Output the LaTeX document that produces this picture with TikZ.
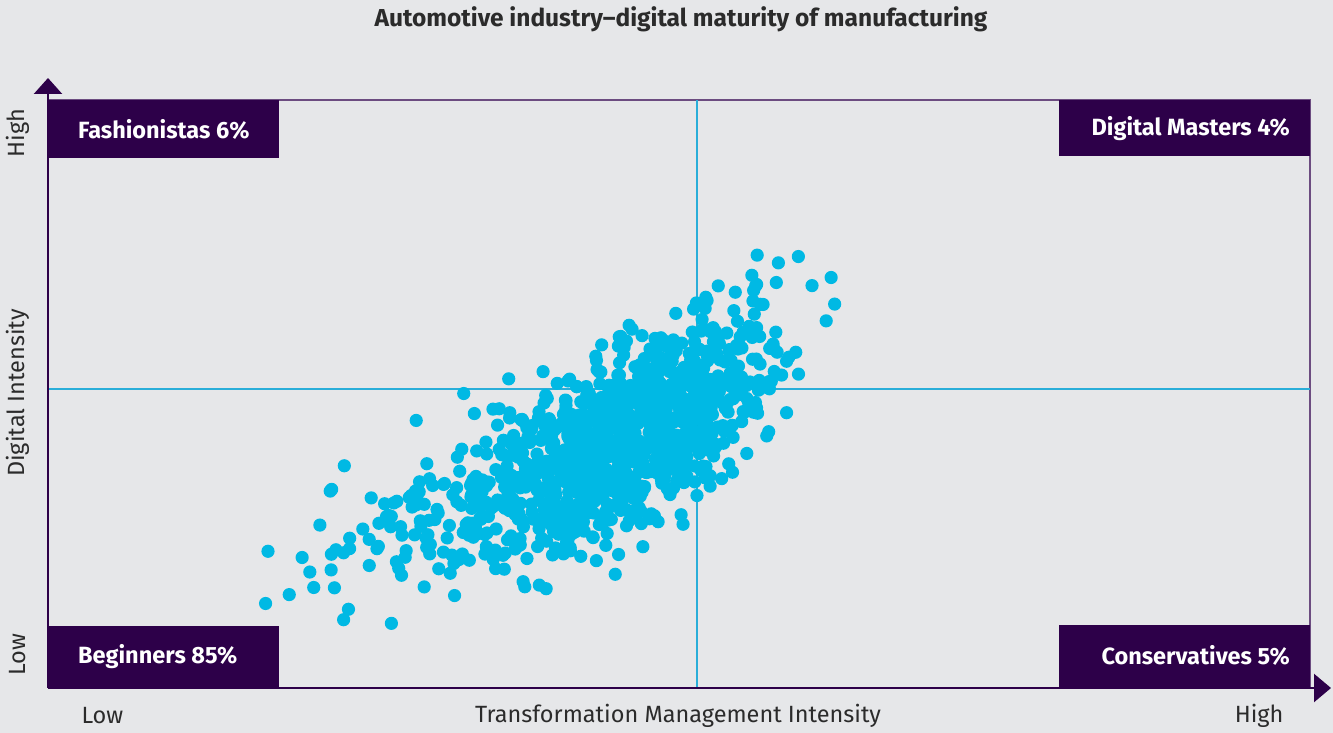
\documentclass[tikz,border=0pt]{standalone}
\usepackage{fontspec}
\setmainfont{Fira Sans}
\usepackage{tikz}
\usetikzlibrary{arrows.meta}
\definecolor{bgcol}{HTML}{E6E7E9}
\definecolor{plum}{HTML}{2D0049}
\definecolor{dotcol}{HTML}{00B9E4}
\definecolor{gridcol}{HTML}{2AAED9}
\definecolor{inkcol}{HTML}{2B2B2B}
\tikzstyle{quadbox} = [rectangle, fill=plum, inner sep=0pt, minimum height=58pt]
\tikzstyle{boxtext} = [text=white, inner sep=0pt, font=\fontsize{23.5}{26}\selectfont\bfseries]
\tikzstyle{axis} = [draw=plum, line width=2.5pt]
\tikzstyle{frame} = [draw=plum!70, line width=1.3pt]
\tikzstyle{axlabel} = [text=inkcol, font=\fontsize{23.5}{27}\selectfont]

\begin{document}
\begin{tikzpicture}[x=1pt, y=-1pt]

\useasboundingbox[fill=bgcol] (0,0) rectangle (1333,733);

\node[font=\fontsize{24.5}{28}\selectfont\bfseries, text=inkcol] (title) at (681,19)
    {Automotive industry--digital maturity of manufacturing};

% frame and quadrant lines
\coordinate (o) at (48,688);
\coordinate (tl) at (48,100);
\coordinate (tr) at (1310,100);
\coordinate (br) at (1310,688);
\draw[frame] (tl) -- (tr) -- (br);
\draw[gridcol, line width=1.2pt] (697,100) -- (697,688);
\draw[gridcol, line width=1.2pt] (48,389) -- (1310,389);

% scatter
\begin{scope}
\clip (tl) rectangle (br);
\pgfmathsetseed{2024}
\foreach \i in {1,...,1100}{
  \pgfmathsetmacro\ta{0.87*(rand+rand+rand+rand)}
  \pgfmathsetmacro\tb{0.87*(rand+rand+rand+rand)}
  \ifnum\i<720
    \pgfmathsetmacro\px{635+68*\ta}
  \else
    \pgfmathsetmacro\px{540+105*\ta}
  \fi
  \pgfmathsetmacro\py{458-(\px<600 ? 0.36 : 0.58)*(\px-600)+44*\tb}
  \fill[dotcol] (\px,\py) circle (6.6pt);
}
\end{scope}

% axes
\coordinate (ytip) at (48,78);
\coordinate (xtip) at (1331,688);
\draw[axis, -{Triangle[width=28pt,length=16pt]}] (o) -- (ytip);
\draw[axis, -{Triangle[width=28pt,length=17pt]}] (o) -- (xtip);

% quadrant boxes
\node[quadbox, anchor=north west, minimum width=231pt] (fash) at (tl) {};
\node[quadbox, anchor=north east, minimum width=251pt, minimum height=56pt] (mast) at (tr) {};
\node[quadbox, anchor=south west, minimum width=231pt, minimum height=62pt] (begin) at (o) {};
\node[quadbox, anchor=south east, minimum width=251pt, minimum height=62pt] (cons) at (1310,687) {};
\node[boxtext, anchor=west] (fashtxt) at ([xshift=30pt]fash.west) {Fashionistas 6\%};
\node[boxtext, anchor=east] (masttxt) at ([xshift=-20pt]mast.east) {Digital Masters 4\%};
\node[boxtext, anchor=west] (begintxt) at ([xshift=30pt]begin.west) {Beginners 85\%};
\node[boxtext, anchor=east] (constxt) at ([xshift=-20pt]cons.east) {Conservatives 5\%};

%labels
\foreach \y/\label in {133/High, 393/Digital Intensity, 655/Low}
  \node[axlabel, rotate=90] at (18,\y) {\label};
\node[axlabel, anchor=west] (xlow) at (78,716) {Low};
\node[axlabel] (xname) at (678,716) {Transformation Management Intensity};
\node[axlabel, anchor=east] (xhigh) at (1287,716) {High};

\end{tikzpicture}
\end{document}
